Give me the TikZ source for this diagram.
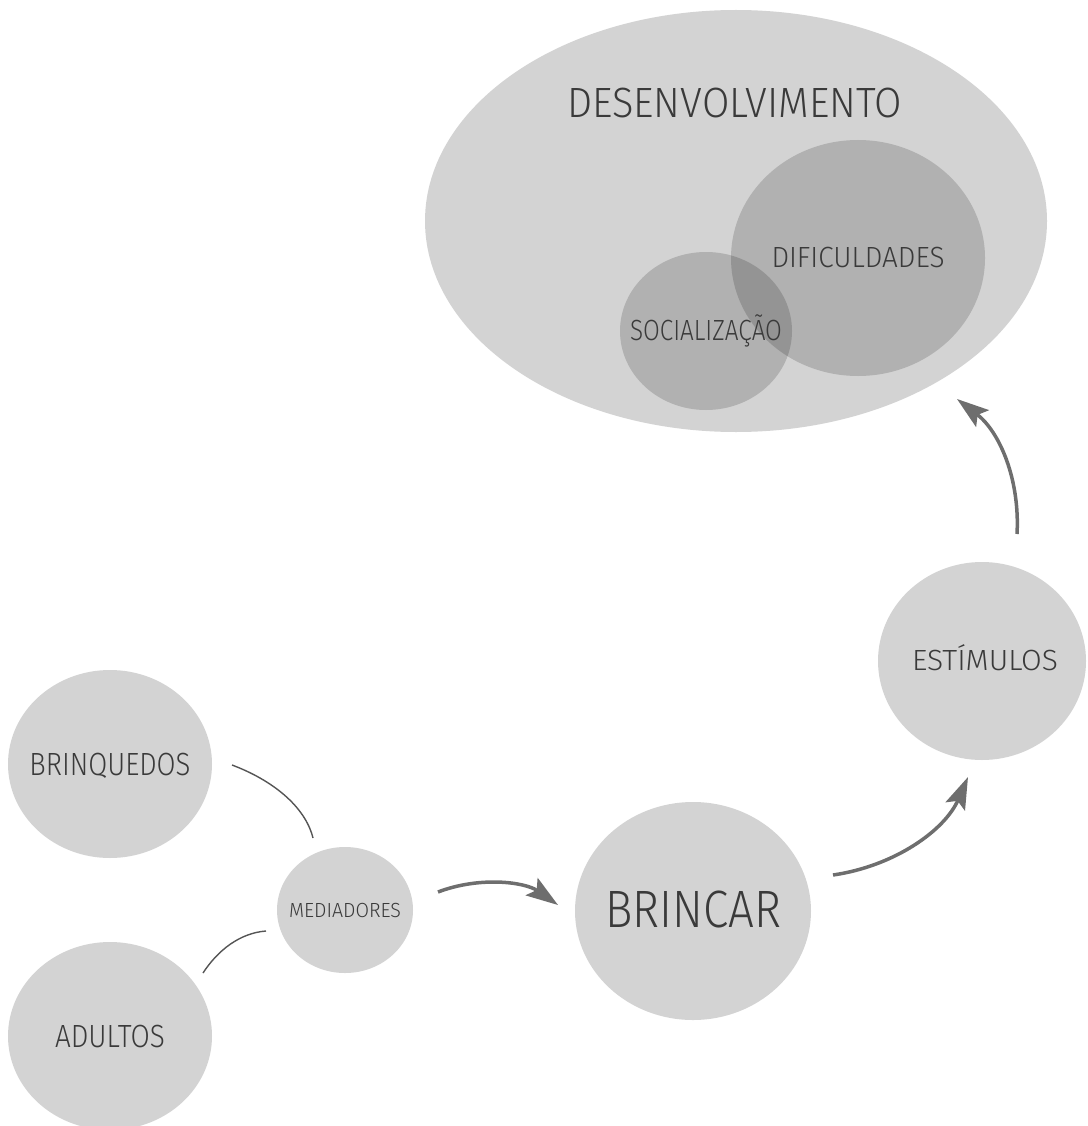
\documentclass[tikz,border=0pt]{standalone}
\usepackage{fontspec}
\setmainfont{Fira Sans Light}
\usepackage{graphicx}
\usetikzlibrary{shapes.geometric,arrows.meta}
\definecolor{bubble}{HTML}{D3D3D3}
\definecolor{ink}{HTML}{3A3A3A}
\definecolor{arrowgray}{HTML}{6E6E6E}
\definecolor{linegray}{HTML}{555555}
\newcommand{\fittext}[3]{\resizebox{#1pt}{#2pt}{\smash{#3}\vphantom{E}}}
\begin{document}
\begin{tikzpicture}[x=1pt,y=-1pt,
  bubblenode/.style={ellipse,fill=bubble,draw=none,inner sep=0pt},
  darknode/.style={ellipse,fill=black,fill opacity=0.16,draw=none,inner sep=0pt},
  labeltext/.style={text=ink,inner sep=0pt},
  flowarrow/.style={draw=arrowgray,line width=3.5pt,-{Stealth[length=32pt,width=21pt,inset=6pt]}},
  thinlink/.style={draw=linegray,line width=1.4pt}]
\useasboundingbox (0,0) rectangle (1087,1126);
\fontsize{20}{24}\selectfont
% big ellipse and inner circles
\node[bubblenode,minimum width=622pt,minimum height=422pt] (desenv) at (736,221) {};
\node[darknode,minimum width=254pt,minimum height=236pt] (dific) at (858,258) {};
\node[darknode,minimum width=172pt,minimum height=158pt] (social) at (706,331) {};
\node[labeltext] (desenvtext) at (734.5,103.5) {\fittext{335}{29}{DESENVOLVIMENTO}};
\node[labeltext] (difictext) at (858,257) {\fittext{173}{20}{DIFICULDADES}};
\node[labeltext] (socialtext) at (706,330) {\fittext{152}{20}{SOCIALIZAÇÃO}};
% bubbles
\node[bubblenode,minimum width=208pt,minimum height=198pt] (estim) at (982,661) {};
\node[bubblenode,minimum width=236pt,minimum height=218pt] (brincar) at (693,911) {};
\node[bubblenode,minimum width=136pt,minimum height=126pt] (med) at (345,910) {};
\node[bubblenode,minimum width=204pt,minimum height=188pt] (brinq) at (110,764) {};
\node[bubblenode,minimum width=204pt,minimum height=188pt] (adult) at (110,1036) {};
\node[labeltext] (estimtext) at (985,660) {\fittext{146}{20}{ESTÍMULOS}};
\node[labeltext] (brincartext) at (693,909) {\fittext{176}{36}{BRINCAR}};
\node[labeltext] (medtext) at (345,910) {\fittext{112}{14}{MEDIADORES}};
\node[labeltext] (brinqtext) at (110,764) {\fittext{161}{22}{BRINQUEDOS}};
\node[labeltext] (adulttext) at (110,1036) {\fittext{110}{22}{ADULTOS}};
% connector end points
\coordinate (brinqout) at (232,765);
\coordinate (medin1) at (313,838);
\coordinate (adultout) at (203,973);
\coordinate (medin2) at (266,931);
\coordinate (medout) at (438,892);
\coordinate (brincarin) at (558,905);
\coordinate (brincarout) at (833,875);
\coordinate (estimin) at (968,777);
\coordinate (estimout) at (1017,534);
\coordinate (desenvin) at (957,399);
% thin links
\draw[thinlink] (brinqout) .. controls (272,780) and (305,806) .. (medin1);
\draw[thinlink] (adultout) .. controls (218,950) and (240,933) .. (medin2);
% arrows
\draw[flowarrow] (medout) .. controls (480,876) and (525,882) .. (brincarin);
\draw[flowarrow] (brincarout) .. controls (895,866) and (945,830) .. (estimin);
\draw[flowarrow] (estimout) .. controls (1020,480) and (1000,432) .. (desenvin);
\end{tikzpicture}
\end{document}
